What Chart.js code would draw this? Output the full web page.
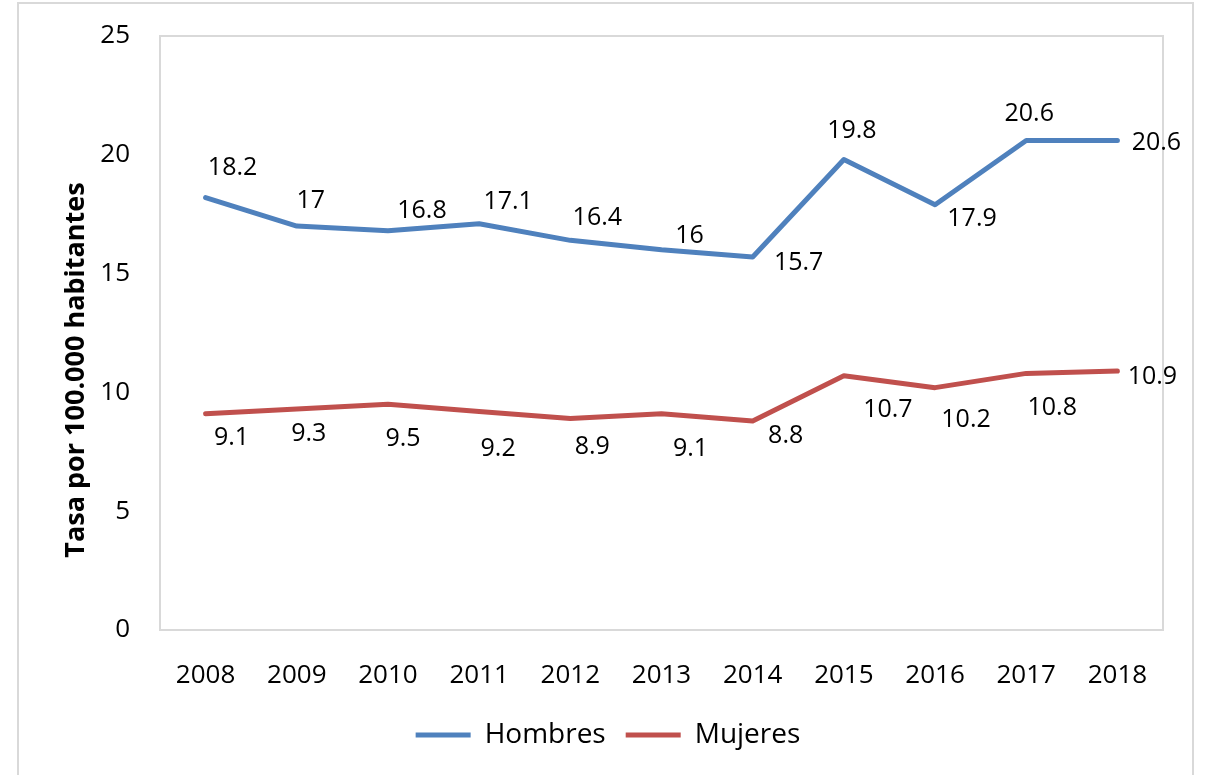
<!DOCTYPE html>
<html>
<head>
<meta charset="utf-8">
<script src="https://cdn.jsdelivr.net/npm/chart.js@4/dist/chart.umd.min.js"></script>
<style>
  html, body { margin: 0; padding: 0; background: #fff; overflow: hidden; }
  #wrap { position: absolute; left: 0; top: 0; width: 1207px; height: 775px; }
</style>
</head>
<body>
<div id="wrap"><canvas id="chart" width="1207" height="775"></canvas></div>
<script>
  // Tasa por 100.000 habitantes, 2008-2018
  var years = ["2008", "2009", "2010", "2011", "2012", "2013", "2014", "2015", "2016", "2017", "2018"];
  var hombres = [18.2, 17, 16.8, 17.1, 16.4, 16, 15.7, 19.8, 17.9, 20.6, 20.6];
  var mujeres = [9.1, 9.3, 9.5, 9.2, 8.9, 9.1, 8.8, 10.7, 10.2, 10.8, 10.9];
  var yTitle = "Tasa por 100.000 habitantes";

  // label placement relative to each point (px, text centre), as in the original
  var hombresLabelShift = [[27, -30], [14, -25], [34, -20], [29, -22], [27, -22], [28, -14],
    [46, 6], [8, -29], [37, 14], [3, -27], [39, 2]];
  var mujeresLabelShift = [[26, 24], [12, 25], [15, 35], [19, 37], [22, 28], [29, 35],
    [33, 15], [44, 34], [31, 32], [26, 34], [35, 6]];

  var BLUE = "#4f81bd";
  var RED = "#c0504d";
  var FONT = "'Open Sans', 'DejaVu Sans', sans-serif";

  // outer frame, plot-area box and the rotated y title
  var framePlugin = {
    id: "frame",
    beforeDraw: function (chart) {
      var c = chart.ctx, a = chart.chartArea;
      c.save();
      c.strokeStyle = "#d9d9d9";
      c.lineWidth = 2;
      c.strokeRect(18, 3, 1175, 900);
      c.strokeRect(a.left, a.top, a.right - a.left, a.bottom - a.top);
      c.translate(76, 370);
      c.rotate(-Math.PI / 2);
      c.font = "bold 27px " + FONT;
      c.fillStyle = "#000";
      c.textAlign = "center";
      c.textBaseline = "middle";
      c.fillText(yTitle, 0, 0);
      c.restore();
    }
  };

  // data labels, shifted per point
  var labelPlugin = {
    id: "pointLabels",
    afterDatasetsDraw: function (chart) {
      var c = chart.ctx;
      c.save();
      c.font = "25px " + FONT;
      c.fillStyle = "#000";
      c.textAlign = "center";
      c.textBaseline = "middle";
      chart.data.datasets.forEach(function (ds, di) {
        var meta = chart.getDatasetMeta(di);
        meta.data.forEach(function (pt, i) {
          var s = ds.labelShift[i];
          c.fillText(String(ds.data[i]), pt.x + s[0], pt.y + s[1]);
        });
      });
      c.restore();
    }
  };

  new Chart(document.getElementById("chart").getContext("2d"), {
    type: "line",
    plugins: [framePlugin, labelPlugin],
    data: {
      labels: years,
      datasets: [
        { label: "Hombres", data: hombres, labelShift: hombresLabelShift,
          borderColor: BLUE, backgroundColor: BLUE, borderWidth: 5 },
        { label: "Mujeres", data: mujeres, labelShift: mujeresLabelShift,
          borderColor: RED, backgroundColor: RED, borderWidth: 5 }
      ]
    },
    options: {
      responsive: false,
      animation: false,
      layout: { padding: { top: 36, right: 44, left: 53, bottom: 16 } },
      elements: {
        line: { tension: 0, borderCapStyle: "round", borderJoinStyle: "round" },
        point: { radius: 0, hoverRadius: 0 }
      },
      plugins: {
        tooltip: { enabled: false },
        legend: {
          position: "bottom",
          labels: {
            font: { family: FONT, size: 28 },
            color: "#000",
            usePointStyle: true,
            pointStyle: "line",
            pointStyleWidth: 55,
            padding: 20
          }
        }
      },
      scales: {
        x: {
          offset: true,
          grid: { display: false, drawTicks: false },
          border: { display: false },
          ticks: { font: { family: FONT, size: 26 }, color: "#000", padding: 30, maxRotation: 0 },
          afterFit: function (axis) { axis.height = 71; }
        },
        y: {
          min: 0,
          max: 25,
          // tick marks hidden (grid off) but their length still spaces the labels
          grid: { display: false, drawTicks: true, tickLength: 10 },
          border: { display: false },
          ticks: { stepSize: 5, font: { family: FONT, size: 26 }, color: "#000", padding: 20 },
          afterFit: function (axis) { axis.width = 107; }
        }
      }
    }
  });
</script>
</body>
</html>
